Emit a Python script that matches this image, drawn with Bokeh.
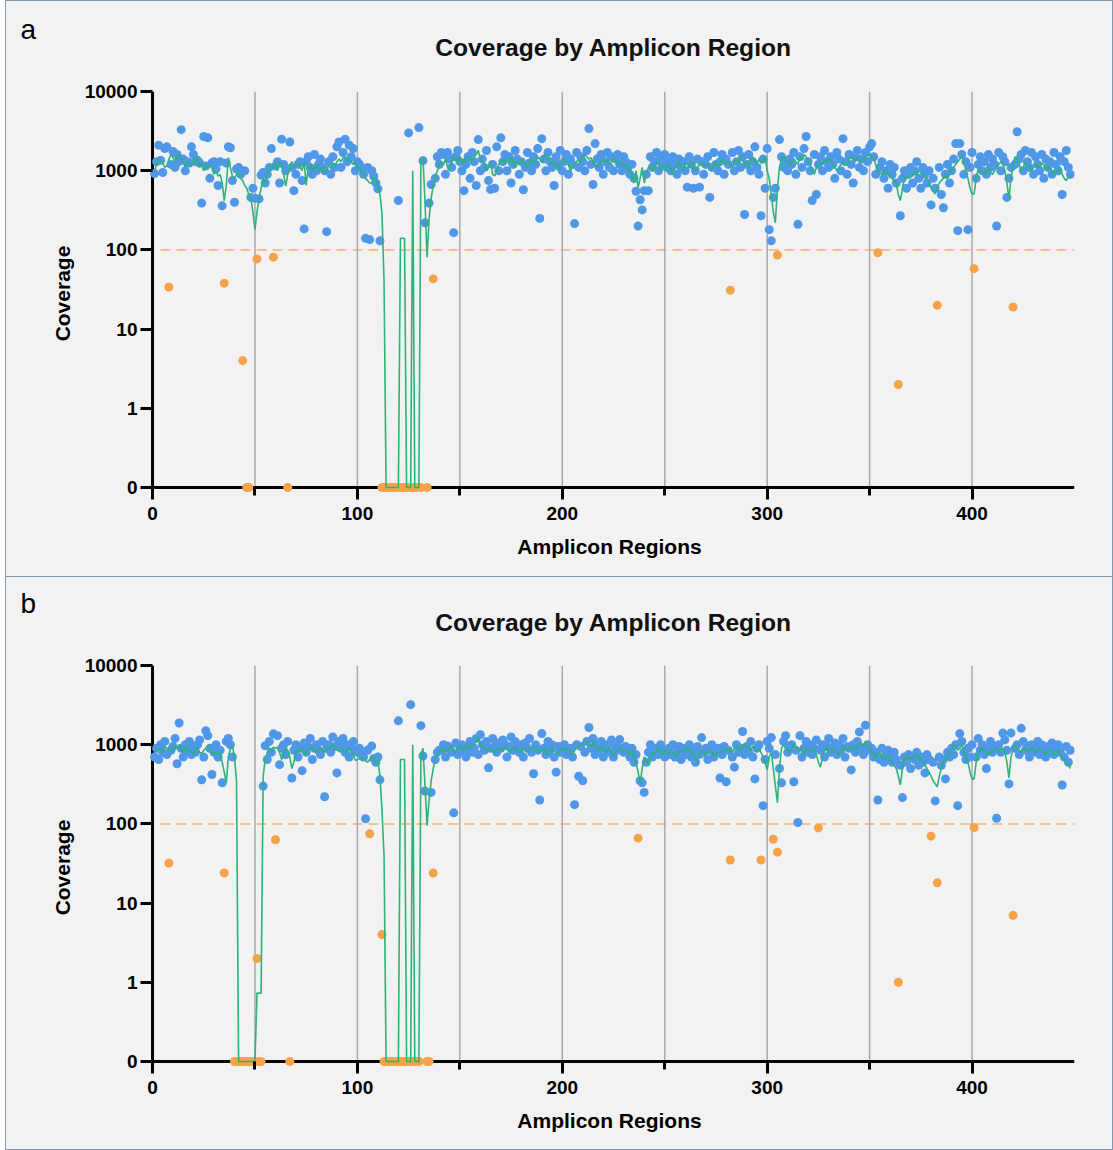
import numpy as np
from bokeh.plotting import figure
from bokeh.models import Range1d, FixedTicker, Span, Label, ColumnDataSource, CustomJSTickFormatter, Spacer
from bokeh.layouts import column, row
from bokeh.embed import file_html
from bokeh.resources import INLINE

# ---------------- data ----------------
TITLE = "Coverage by Amplicon Region"
X_LABEL = "Amplicon Regions"
Y_LABEL = "Coverage"
X_MAX = 450
X_MAJOR = [0, 100, 200, 300, 400]
X_MINOR = [50, 150, 250, 350]
GRID_X = [50, 100, 150, 200, 250, 300, 350, 400]
Y_TICKS = [0.1, 1, 10, 100, 1000, 10000]   # lowest tick is shown as "0"
THRESHOLD = 100

# panel a: coverage per amplicon region (dots)
cov_a = [
    920, 1300, 2100, 1350, 950, 1900, 2000, 34, 1200, 1750,
    1100, 1600, 1300, 3300, 1400, 1000, 1300, 1250, 2000, 1600,
    1300, 1350, 1250, 390, 2700, 1150, 2600, 800, 1250, 1300,
    1050, 650, 1300, 360, 38, 1250, 2000, 1950, 750, 400,
    1050, 1100, 900, 4, 1000, 0, 0, 460, 600, 450,
    77, 440, 880, 950, 700, 900, 1100, 1900, 81, 1150,
    1300, 700, 2500, 1200, 1000, 0, 2300, 1100, 560, 900,
    1200, 1300, 750, 184, 1300, 1500, 1100, 900, 1600, 1000,
    1200, 1400, 1100, 1000, 170, 1300, 900, 1500, 1100, 2000,
    2300, 1100, 1700, 2500, 1300, 2100, 1500, 1900, 1000, 1300,
    1200, 1100, 900, 140, 1100, 135, 1000, 850, 700, 590,
    130, 0, 0, 0, 0, 0, 0, 0, 0, 420,
    0, 0, 0, 0, 3000, 0, 0, 0, 0, 3500,
    0, 1340, 220, 0, 390, 670, 43, 800, 1500, 1200,
    1700, 1600, 900, 1700, 1400, 1100, 165, 1500, 1800, 1300,
    1000, 560, 1200, 1500, 800, 1700, 1300, 650, 2470, 1000,
    1400, 1100, 1800, 750, 580, 1200, 600, 2000, 1000, 2600,
    1300, 1600, 1000, 1500, 700, 1200, 1800, 1400, 900, 1300,
    575, 1100, 1700, 1250, 1000, 1500, 1200, 1900, 250, 2540,
    1400, 1000, 1700, 1300, 1100, 650, 1500, 1200, 1800, 1000,
    1300, 1600, 900, 1400, 1200, 215, 1700, 1100, 1500, 1300,
    1000, 1800, 3400, 1200, 670, 2200, 1400, 1100, 1600, 900,
    1300, 1700, 1100, 1500, 1000, 1400, 1600, 1200, 1000, 1500,
    1300, 1100, 900, 1200, 800, 550, 200, 430, 320, 560,
    900, 560, 1500, 1100, 1300, 1700, 1000, 1400, 1200, 1600,
    1100, 1300, 1000, 1500, 1200, 900, 1400, 1100, 1300, 1000,
    620, 1500, 1200, 600, 1000, 1400, 620, 1300, 900, 1200,
    1500, 460, 1100, 1700, 1200, 1000, 1300, 1600, 900, 1400,
    1200, 31, 1700, 1000, 1300, 1800, 1100, 1500, 280, 1200,
    1600, 1000, 1300, 2000, 1100, 900, 270, 1400, 600, 1900,
    180, 130, 460, 600, 86, 2470, 1500, 1100, 1300, 1000,
    1400, 1200, 1700, 900, 210, 1500, 1100, 1900, 2700, 1300,
    1000, 420, 1600, 500, 1200, 1500, 1000, 1800, 1300, 1100,
    1500, 1200, 800, 1700, 1400, 1000, 2540, 1300, 900, 1600,
    1200, 700, 1500, 1800, 1100, 1400, 1000, 1700, 1300, 2000,
    2200, 1500, 900, 92, 1100, 1300, 800, 1000, 600, 1200,
    900, 1100, 700, 2, 270, 800, 1000, 600, 900, 1100,
    700, 1000, 1300, 800, 600, 1100, 900, 700, 1000, 370,
    800, 600, 20, 1100, 500, 340, 900, 1200, 700, 1000,
    1400, 2200, 175, 2200, 1600, 900, 1300, 180, 1100, 1700,
    58, 800, 1200, 1500, 1000, 1300, 900, 1600, 1100, 1400,
    1200, 200, 1700, 1000, 1500, 1300, 460, 800, 1100, 19,
    1200, 3100, 1400, 1600, 1000, 1800, 1300, 1100, 1700, 900,
    1500, 1200, 1000, 1600, 800, 1400, 1100, 1300, 900, 1700,
    1200, 1000, 1500, 500, 1300, 1800, 1100, 900,
]

# panel a: green trace
line_a = [
    1000, 1200, 1400, 1300, 1250, 1100, 1150, 1400, 1600, 1450,
    1300, 1500, 1600, 1400, 1250, 1100, 1300, 1200, 1150, 1400,
    1300, 1500, 1100, 1250, 1000, 1200, 1050, 1150, 1100, 900,
    1000, 850, 900, 700, 420, 650, 1460, 1100, 850, 800,
    900, 1000, 800, 750, 650, 600, 500, 450, 300, 180,
    300, 450, 600, 800, 700, 950, 1000, 1200, 1100, 1250,
    1000, 1300, 1200, 900, 640, 900, 1150, 1300, 1100, 1200,
    1250, 1100, 1000, 1300, 650, 1100, 1200, 1000, 1150, 1050,
    1200, 1000, 1100, 950, 1000, 1200, 1050, 1250, 1150, 1300,
    1400, 1300, 1450, 1500, 1350, 1400, 1300, 1200, 1250, 1100,
    1100, 950, 900, 800, 750, 700, 700, 820, 800, 650,
    500, 290, 40, 0, 0, 0, 0, 0, 0, 0,
    140, 140, 140, 0, 0, 0, 1000, 0, 0, 0,
    1300, 1500, 400, 80, 250, 450, 650, 850, 1000, 1150,
    1300, 1200, 1400, 1100, 1000, 1300, 1500, 1400, 1300, 1500,
    1200, 1400, 1300, 1500, 1400, 1300, 1500, 1600, 1800, 1400,
    1300, 1200, 1000, 1100, 1300, 900, 860, 1000, 1200, 1300,
    1400, 1300, 1400, 1200, 1500, 1300, 1100, 1300, 1200, 1400,
    1300, 1200, 1100, 1300, 1400, 1200, 1300, 1500, 1400, 1300,
    1500, 1650, 1500, 1300, 1200, 1300, 1100, 1000, 1200, 1300,
    1400, 1300, 1200, 1000, 1100, 1200, 1300, 1400, 1300, 1500,
    1600, 1500, 1400, 1450, 1300, 1200, 1100, 1200, 1300, 1400,
    1300, 1350, 1200, 1300, 1400, 1300, 1200, 1300, 1250, 1100,
    1200, 1000, 1100, 900, 700, 1000, 610, 800, 1100, 700,
    900, 1100, 1200, 1000, 1100, 1300, 1200, 1000, 1150, 1050,
    1100, 1200, 1000, 900, 1100, 1200, 1300, 1100, 1000, 1200,
    1250, 1100, 1300, 1200, 1000, 1100, 1200, 1300, 1150, 1200,
    1250, 1100, 1050, 1200, 1300, 1100, 1200, 1400, 1250, 1200,
    1300, 1200, 1100, 1300, 1400, 1200, 1500, 1350, 1200, 1300,
    1100, 1400, 1500, 1300, 1200, 1400, 1250, 1300, 1500, 1000,
    800, 500, 300, 220, 600, 1100, 1400, 1550, 1400, 1300,
    1200, 1300, 1400, 1300, 1200, 1500, 1400, 1600, 1500, 1300,
    1200, 1000, 900, 1100, 1200, 1300, 1200, 1350, 1300, 1400,
    1350, 1200, 1100, 1000, 1100, 1200, 1300, 1250, 1200, 1400,
    1500, 1400, 1300, 1450, 1400, 1300, 1400, 1500, 1550, 1600,
    1500, 1400, 1200, 1000, 950, 900, 1000, 950, 900, 850,
    800, 750, 700, 500, 420, 600, 800, 850, 800, 900,
    850, 950, 900, 1000, 950, 900, 850, 800, 700, 600,
    550, 510, 600, 700, 750, 800, 850, 800, 900, 1000,
    1100, 1200, 1300, 1400, 1500, 1300, 1000, 800, 600, 510,
    510, 800, 1050, 1000, 950, 900, 1000, 1100, 950, 900,
    1000, 1100, 1200, 1300, 1250, 1000, 700, 450, 800, 1200,
    1500, 1400, 1200, 1000, 1100, 1300, 1200, 1100, 1000, 1100,
    1200, 1150, 1100, 1250, 1200, 1000, 1100, 1050, 950, 900,
    1000, 950, 1100, 900, 800, 750, 850, 800,
]

# panel b: coverage per amplicon region (dots)
cov_b = [
    700, 900, 650, 1000, 800, 1100, 750, 32, 850, 950,
    1200, 575, 1880, 900, 700, 1000, 850, 1100, 750, 950,
    800, 1000, 1150, 360, 700, 1500, 1300, 900, 420, 800,
    1000, 700, 850, 330, 24, 1100, 1200, 1000, 700, 0,
    0, 0, 0, 0, 0, 0, 0, 0, 0, 0,
    2, 0, 0, 300, 970, 650, 1100, 800, 1370, 63,
    1300, 560, 900, 1000, 750, 1100, 0, 380, 850, 1000,
    700, 900, 470, 1050, 800, 950, 1200, 650, 900, 1000,
    850, 750, 1100, 220, 900, 1000, 800, 1250, 950, 440,
    1100, 900, 1200, 800, 1000, 700, 950, 1100, 850, 800,
    900, 750, 700, 116, 850, 75, 960, 670, 600, 700,
    360, 4, 0, 0, 0, 0, 0, 0, 0, 2000,
    0, 0, 0, 0, 0, 3200, 0, 0, 0, 0,
    1740, 720, 260, 0, 0, 250, 24, 650, 800, 850,
    860, 1000, 700, 960, 900, 800, 138, 1050, 750, 900,
    1000, 850, 700, 950, 1100, 800, 900, 1200, 750, 1340,
    1000, 850, 1100, 510, 900, 1200, 950, 800, 1050, 900,
    1150, 1000, 700, 950, 1250, 850, 1100, 900, 800, 1000,
    700, 1050, 900, 1200, 800, 430, 1000, 850, 200, 1380,
    900, 750, 1100, 850, 1000, 700, 450, 950, 800, 900,
    1000, 750, 850, 900, 700, 175, 1000, 400, 950, 350,
    800, 1100, 1650, 900, 1200, 750, 1000, 850, 1100, 700,
    900, 1000, 800, 1150, 700, 950, 850, 1160, 900, 800,
    950, 800, 700, 900, 600, 750, 66, 350, 330, 250,
    600, 800, 1000, 700, 850, 900, 750, 1000, 800, 700,
    850, 900, 750, 1000, 700, 800, 950, 650, 900, 750,
    800, 1000, 700, 850, 600, 950, 750, 1230, 800, 900,
    650, 850, 1000, 700, 800, 900, 380, 750, 950, 340,
    850, 35, 700, 520, 1000, 800, 900, 1470, 750, 950,
    800, 1100, 700, 370, 900, 1000, 35, 170, 650, 1100,
    900, 1230, 64, 750, 44, 500, 330, 1100, 1300, 800,
    950, 1000, 340, 850, 104, 1300, 700, 900, 1100, 800,
    1000, 750, 900, 1150, 89, 850, 1000, 700, 950, 1200,
    800, 900, 1050, 750, 1000, 850, 1200, 700, 950, 900,
    480, 1000, 800, 1100, 1450, 900, 750, 1760, 1000, 850,
    900, 700, 800, 200, 650, 900, 600, 750, 850, 700,
    600, 800, 650, 1, 550, 215, 700, 600, 750, 500,
    700, 650, 800, 550, 700, 600, 440, 750, 650, 70,
    600, 195, 18, 700, 550, 650, 370, 800, 700, 900,
    750, 1000, 170, 1380, 1100, 800, 650, 900, 700, 1000,
    90, 700, 1200, 850, 1000, 750, 500, 900, 1100, 800,
    950, 118, 1000, 800, 1400, 1150, 850, 320, 1400, 7,
    900, 1000, 750, 1610, 1100, 850, 950, 700, 1000, 800,
    900, 1100, 750, 1000, 850, 700, 950, 800, 1050, 750,
    900, 1000, 800, 310, 700, 950, 600, 850,
]

# panel b: green trace
line_b = [
    800, 850, 900, 800, 850, 950, 900, 850, 800, 900,
    950, 900, 1000, 850, 800, 900, 950, 850, 800, 780,
    850, 900, 800, 780, 850, 900, 950, 900, 800, 780,
    800, 750, 800, 600, 450, 330, 700, 900, 980, 700,
    350, 0, 0, 0, 0, 0, 0, 0, 0, 0,
    0.73, 0.73, 0.73, 400, 650, 800, 900, 850, 930, 900,
    930, 800, 650, 750, 920, 850, 700, 500, 600, 850,
    800, 850, 900, 800, 750, 850, 900, 940, 850, 800,
    850, 900, 830, 800, 850, 900, 950, 1000, 900, 850,
    900, 850, 820, 800, 850, 900, 800, 750, 630, 650,
    660, 700, 650, 630, 600, 650, 700, 650, 600, 630,
    400, 150, 40, 0, 0, 0, 0, 0, 0, 0,
    650, 650, 650, 0, 0, 0, 1000, 0, 0, 0,
    750, 900, 300, 95, 200, 350, 500, 650, 750, 800,
    850, 900, 800, 850, 900, 950, 850, 800, 900, 950,
    900, 850, 950, 1000, 900, 950, 1000, 1100, 1250, 1000,
    950, 900, 850, 880, 900, 850, 800, 850, 900, 880,
    850, 900, 880, 800, 850, 900, 950, 850, 800, 850,
    900, 850, 800, 850, 900, 950, 900, 850, 800, 850,
    900, 800, 750, 850, 900, 850, 800, 750, 850, 900,
    850, 900, 850, 800, 750, 850, 900, 950, 1000, 1050,
    1100, 1050, 1000, 950, 1100, 1000, 900, 850, 950, 900,
    800, 850, 900, 800, 720, 800, 850, 900, 850, 800,
    850, 800, 750, 850, 700, 600, 450, 330, 500, 700,
    650, 550, 700, 800, 750, 850, 900, 800, 750, 850,
    800, 750, 850, 800, 750, 700, 800, 850, 800, 900,
    900, 850, 800, 750, 700, 620, 750, 850, 800, 750,
    800, 850, 800, 700, 750, 800, 850, 800, 850, 850,
    900, 850, 800, 900, 950, 900, 850, 950, 1000, 950,
    900, 850, 950, 900, 850, 900, 800, 700, 600, 480,
    700, 800, 500, 300, 185, 500, 900, 1000, 900, 850,
    800, 900, 1000, 950, 850, 900, 800, 750, 900, 850,
    800, 850, 900, 750, 600, 520, 700, 850, 900, 800,
    850, 900, 850, 800, 750, 850, 900, 950, 850, 900,
    950, 900, 850, 950, 1000, 1050, 950, 1100, 1000, 900,
    800, 750, 700, 750, 800, 700, 650, 700, 750, 650,
    600, 550, 500, 400, 310, 500, 650, 700, 650, 700,
    650, 700, 750, 700, 650, 600, 550, 500, 450, 400,
    350, 320, 295, 400, 500, 600, 650, 700, 800, 900,
    1000, 950, 850, 900, 1000, 850, 700, 600, 450, 370,
    370, 600, 800, 850, 900, 850, 800, 750, 800, 850,
    850, 900, 800, 850, 900, 800, 600, 380, 700, 900,
    1000, 900, 850, 800, 850, 900, 800, 850, 900, 850,
    800, 850, 900, 850, 800, 750, 800, 850, 800, 750,
    800, 850, 750, 700, 650, 600, 550, 500,
]

# ---------------- style / layout ----------------
BG = "#f2f2f2"
BLUE = "#4f97e7"
ORANGE = "#f5a348"
GREEN = "#2db37a"
GRID = "#a9a9a9"
DASH = "#f2b07a"
EDGE = "1px solid #8497b0"
FONT = "Liberation Sans"

FIG_W = 1108          # figure width incl. 1px left/right border
CANVAS_W = FIG_W - 2
L = 138               # frame left (8 px left of x = 0)
R = 40
PAD = 8               # frame extends 8 px beyond the axes so markers on 0 are whole
DEC = 79              # px per decade


def header(letter, height, top_border, letter_y, title_y):
    ch = height - (1 if top_border else 0)
    st = {"border-left": EDGE, "border-right": EDGE}
    if top_border:
        st["border-top"] = EDGE
    h = figure(width=FIG_W, height=height, x_range=Range1d(0, CANVAS_W),
               y_range=Range1d(ch, 0), output_backend="svg", toolbar_location=None,
               x_axis_location=None, y_axis_location=None, title_location=None,
               min_border=0, min_border_left=0, min_border_right=0,
               min_border_top=0, min_border_bottom=0,
               background_fill_color=BG, border_fill_color=BG,
               outline_line_color=None, styles=st)
    h.frame_align = False
    h.xgrid.visible = False
    h.ygrid.visible = False
    h.add_layout(Label(x=14, y=letter_y, text=letter, text_font=FONT,
                       text_font_size="28px", text_baseline="alphabetic",
                       text_align="left", text_color="black"))
    frame_w = CANVAS_W - L - R
    ppu = (frame_w - PAD) / X_MAX
    cx = L + PAD + ppu * X_MAX / 2
    h.add_layout(Label(x=cx, y=title_y, text=TITLE, text_font=FONT,
                       text_font_size="24.6px", text_font_style="bold",
                       text_baseline="alphabetic", text_align="center",
                       text_color="#111111"))
    return h


def build(cov, line, height, top):
    ch = height - 1
    frame_w = CANVAS_W - L - R
    ppu = (frame_w - PAD) / X_MAX
    x0 = -PAD / ppu
    y0 = Y_TICKS[0] * 10 ** (-PAD / DEC)
    bottom = ch - top - (5 * DEC + PAD)

    p = figure(width=FIG_W, height=height,
               x_range=Range1d(x0, X_MAX), y_range=Range1d(y0, Y_TICKS[-1]),
               y_axis_type="log", output_backend="svg", toolbar_location=None,
               min_border_left=L, min_border_right=R,
               min_border_top=top, min_border_bottom=bottom,
               background_fill_color=BG, border_fill_color=BG,
               outline_line_color=None,
               styles={"border-left": EDGE, "border-right": EDGE, "border-bottom": EDGE})
    p.frame_align = False
    p.xgrid.visible = False
    p.ygrid.visible = False

    n = len(GRID_X)
    p.segment(x0=GRID_X, y0=[Y_TICKS[0]] * n, x1=GRID_X, y1=[Y_TICKS[-1]] * n,
              line_color=GRID, line_width=1.5)

    p.add_layout(Span(location=THRESHOLD, dimension="width", line_color=DASH,
                      line_dash="10 6", line_width=1.5, level="underlay"))

    # axis lines (drawn inside the padded frame)
    p.segment(x0=[0, 0], y0=[Y_TICKS[0], Y_TICKS[0]], x1=[X_MAX, 0],
              y1=[Y_TICKS[0], Y_TICKS[-1]], line_color="black", line_width=3)

    cov = np.asarray(cov, dtype=float)
    xs = np.arange(1, len(cov) + 1)
    colors = [ORANGE if v < THRESHOLD else BLUE for v in cov]
    src = ColumnDataSource(dict(x=xs, y=np.maximum(cov, Y_TICKS[0]), c=colors))
    p.scatter("x", "y", source=src, size=9, fill_color="c", line_color=None)

    line = np.asarray(line, dtype=float)
    lx = np.arange(1, len(line) + 1)
    p.line(lx, np.maximum(line, Y_TICKS[0]), line_color=GREEN, line_width=1.6)

    xa = p.xaxis[0]
    ya = p.yaxis[0]
    xa.ticker = FixedTicker(ticks=X_MAJOR, minor_ticks=X_MINOR)
    ya.ticker = FixedTicker(ticks=Y_TICKS, minor_ticks=[])
    ya.formatter = CustomJSTickFormatter(code="return tick < 1 ? '0' : tick.toFixed(0);")
    xa.axis_label = X_LABEL
    ya.axis_label = Y_LABEL
    for ax in (xa, ya):
        ax.axis_line_color = None
        ax.major_tick_line_color = "black"
        ax.major_tick_line_width = 3
        ax.major_tick_in = PAD
        ax.major_tick_out = 4
        ax.minor_tick_line_color = "black"
        ax.minor_tick_line_width = 3
        ax.minor_tick_in = PAD
        ax.minor_tick_out = 0
        ax.major_label_text_font = FONT
        ax.major_label_text_font_style = "bold"
        ax.major_label_text_font_size = "19px"
        ax.major_label_text_color = "black"
        ax.axis_label_text_font = FONT
        ax.axis_label_text_font_style = "bold"
        ax.axis_label_text_font_size = "21px"
        ax.axis_label_text_color = "black"
    xa.major_label_standoff = 7
    xa.axis_label_standoff = 12
    ya.major_label_standoff = 3
    ya.axis_label_standoff = 8
    return p


ha = header("a", 76, True, letter_y=28, title_y=45)
pa = build(cov_a, line_a, 501, top=15)
hb = header("b", 76, False, letter_y=26, title_y=45)
pb = build(cov_b, line_b, 497, top=12)

panels = column(ha, pa, hb, pb, spacing=0, styles={"background-color": BG})
layout = row(Spacer(width=5, height=1150), panels, spacing=0)
open("out.html", "w").write(file_html(layout, INLINE))
